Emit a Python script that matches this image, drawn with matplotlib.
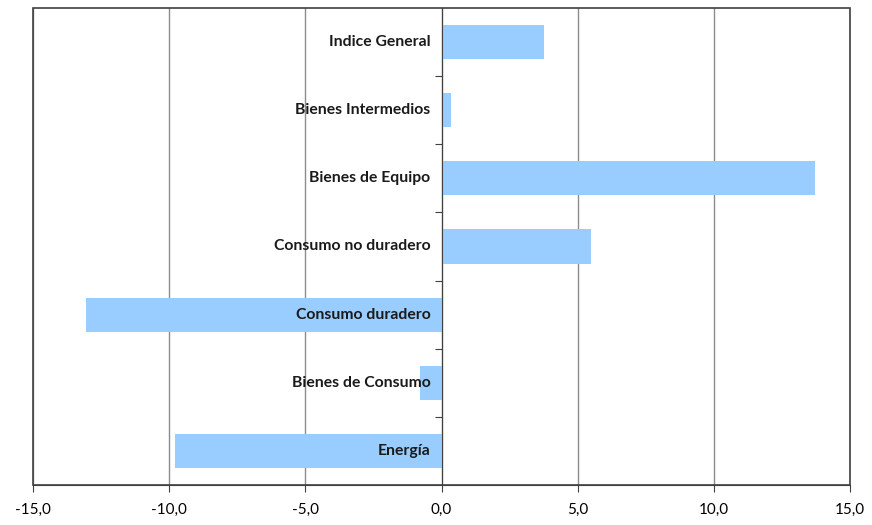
import numpy as np
import matplotlib.pyplot as plt
from matplotlib.patches import Rectangle

categorias = ["Indice General", "Bienes Intermedios", "Bienes de Equipo",
              "Consumo no duradero", "Consumo duradero", "Bienes de Consumo",
              "Energía"]
valores = [3.75, 0.35, 13.7, 5.5, -13.05, -0.8, -9.8]
xticks = [-15, -10, -5, 0, 5, 10, 15]
xlabels = ["-15,0", "-10,0", "-5,0", "0,0", "5,0", "10,0", "15,0"]

plt.rcParams['font.family'] = ['Lato', 'DejaVu Sans']

fig = plt.figure(figsize=(8.72, 5.25), dpi=100)
ax = fig.add_axes([33/872, 40/525, 817/872, 477/525])

y = np.arange(len(categorias))[::-1]
ax.barh(y, valores, height=0.5, color='#99ccff', zorder=2)

ax.set_xlim(-15, 15)
ax.set_ylim(-0.5, len(categorias) - 0.5)
ax.set_xticks(xticks)
ax.set_xticklabels(xlabels, fontsize=11)
ax.xaxis.grid(True, color='#8c8c8c', linewidth=1, zorder=0)
ax.set_axisbelow(True)

# category labels just left of the zero axis
for yi, lab in zip(y, categorias):
    ax.annotate(lab, (0, yi), xytext=(-8, 0), textcoords='offset points',
                ha='right', va='center', fontsize=11.3, fontweight='bold',
                color='#1a1a1a', zorder=3)

# zero axis with ticks between categories
ax.spines['left'].set_position(('data', 0))
ax.spines['left'].set_color('#404040')
ax.spines['left'].set_zorder(4)
ax.set_yticks(np.arange(len(categorias) - 1) + 0.5)
ax.set_yticklabels([])
ax.tick_params(axis='y', direction='out', length=5, color='#404040')
ax.tick_params(axis='x', direction='out', length=5, color='#404040', pad=8)

for s in ['top', 'right']:
    ax.spines[s].set_visible(False)
ax.spines['bottom'].set_color('#404040')
ax.add_patch(Rectangle((0, 0), 1, 1, transform=ax.transAxes, fill=False,
                       ec='#404040', lw=1.2, clip_on=False, zorder=5))

fig.savefig("out.png", dpi=100)
